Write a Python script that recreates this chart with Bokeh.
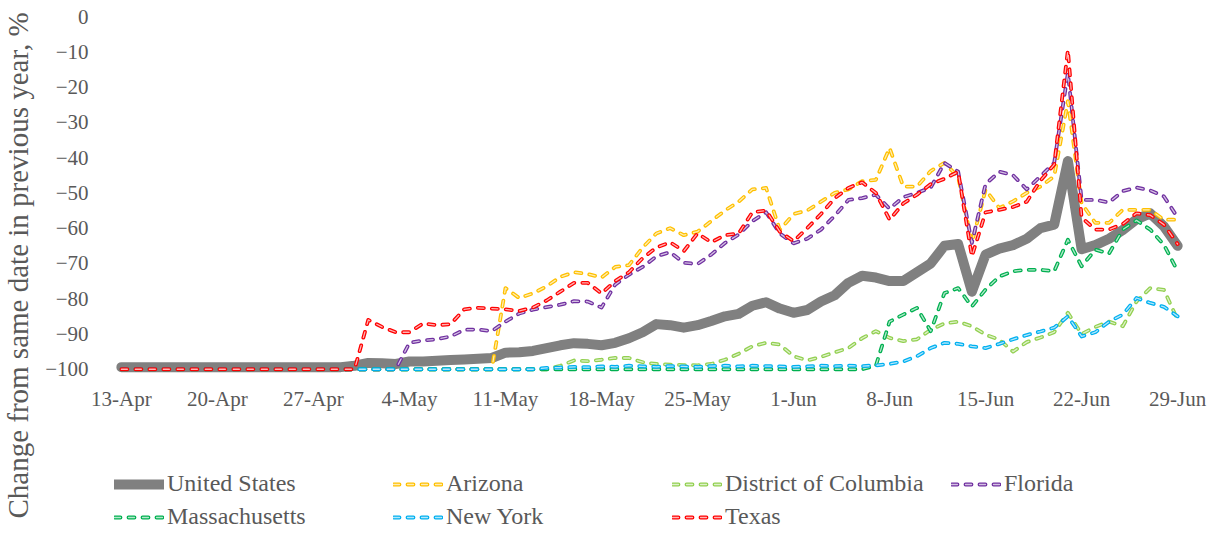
import math
import pandas as pd
from bokeh.plotting import figure
from bokeh.layouts import row, column
from bokeh.models import Range1d, FixedTicker, Legend, LegendItem, Label
from bokeh.embed import file_html
from bokeh.resources import INLINE

# ---------------- data ----------------
dates = pd.date_range("2020-04-13", "2020-06-29", freq="D")
tick_dates = pd.date_range("2020-04-13", "2020-06-29", freq="7D")
y_ticks = [-100, -90, -80, -70, -60, -50, -40, -30, -20, -10, 0]

united_states = [
    -99.4, -99.4, -99.4, -99.4, -99.4, -99.4, -99.4, -99.4, -99.4, -99.4,
    -99.4, -99.4, -99.4, -99.4, -99.4, -99.4, -99.4, -99.0, -98.2, -98.3,
    -98.5, -97.8, -97.8, -97.6, -97.4, -97.2, -97.0, -96.8, -95.3, -95.2,
    -94.8, -94.0, -93.2, -92.6, -92.8, -93.2, -92.5, -91.2, -89.5, -87.2,
    -87.5, -88.2, -87.5, -86.3, -85.0, -84.3, -82.0, -81.0, -82.8, -84.0,
    -83.2, -80.8, -79.0, -75.5, -73.5, -74.0, -75.0, -75.0, -72.5, -70.0,
    -65.0, -64.5, -78.0, -67.5, -65.8, -64.8, -63.0, -60.0, -59.0, -41.0,
    -66.0, -64.8, -63.0, -60.5, -57.5, -55.8, -59.5, -65.0]

arizona = [
    -100, -100, -100, -100, -100, -100, -100, -100, -100, -100,
    -100, -100, -100, -100, -100, -100, -100, -100, -100, -100,
    -100, -100, -100, -100, -100, -100, -100, -100, -77.0, -79.8,
    -78.5, -76.5, -73.8, -72.5, -73.0, -74.0, -71.0, -70.5, -65.5, -61.5,
    -60.0, -62.0, -61.0, -58.0, -55.0, -52.5, -49.0, -48.6, -60.5, -56.0,
    -55.0, -52.5, -50.0, -49.0, -46.7, -46.3, -37.3, -48.2, -48.2, -43.8,
    -41.5, -45.5, -64.2, -49.1, -54.3, -52.4, -50.0, -48.2, -45.3, -24.0,
    -53.0, -58.5, -58.5, -54.8, -54.8, -54.8, -57.6, -57.6]

district_of_columbia = [
    -100, -100, -100, -100, -100, -100, -100, -100, -100, -100,
    -100, -100, -100, -100, -100, -100, -100, -100, -100, -100,
    -100, -100, -100, -100, -100, -100, -100, -100, -100, -100,
    -100, -100, -99.0, -97.5, -97.7, -97.3, -96.8, -96.8, -98.0, -98.5,
    -98.7, -98.8, -98.9, -98.5, -97.3, -95.6, -93.5, -92.5, -93.0, -96.3,
    -97.5, -96.5, -95.2, -94.0, -91.2, -89.2, -91.1, -92.0, -91.5, -88.8,
    -87.0, -86.5, -87.8, -90.2, -91.6, -95.0, -92.3, -91.0, -89.5, -84.0,
    -90.0, -88.0, -86.5, -87.8, -80.8, -77.0, -77.5, -86.0]

florida = [
    -100, -100, -100, -100, -100, -100, -100, -100, -100, -100,
    -100, -100, -100, -100, -100, -100, -100, -100, -100, -100,
    -100, -92.5, -91.8, -91.5, -90.7, -88.8, -88.7, -89.2, -86.5, -84.2,
    -83.1, -82.4, -81.7, -80.7, -80.8, -82.5, -76.0, -73.2, -71.0, -68.0,
    -66.8, -69.8, -70.2, -67.5, -64.2, -61.8, -58.0, -55.5, -61.5, -64.3,
    -63.0, -60.4, -56.5, -52.0, -51.5, -50.5, -54.5, -51.2, -50.0, -48.5,
    -41.5, -44.0, -64.2, -47.5, -44.0, -45.0, -49.0, -45.3, -41.5, -16.0,
    -52.0, -52.0, -52.7, -49.5, -48.5, -49.3, -51.0, -57.0]

massachusetts = [
    -100, -100, -100, -100, -100, -100, -100, -100, -100, -100,
    -100, -100, -100, -100, -100, -100, -100, -100, -100, -100,
    -100, -100, -100, -100, -100, -100, -100, -100, -100, -100,
    -100, -100, -100, -100, -100, -100, -100, -100, -100, -100,
    -100, -100, -100, -100, -100, -100, -100, -100, -100, -100,
    -100, -100, -100, -100, -100, -99.0, -86.5, -84.5, -82.6, -89.2,
    -78.4, -77.0, -82.2, -77.4, -73.7, -72.2, -71.8, -71.8, -72.2, -63.3,
    -70.8, -66.1, -67.2, -60.4, -57.8, -60.4, -64.7, -72.2]

new_york = [
    -100, -100, -100, -100, -100, -100, -100, -100, -100, -100,
    -100, -100, -100, -100, -100, -100, -100, -100, -100, -100,
    -100, -100, -100, -100, -100, -100, -100, -100, -100, -100,
    -100, -99.6, -99.5, -99.3, -99.4, -99.2, -99.3, -99.0, -99.2, -99.3,
    -99.1, -99.2, -99.3, -99.1, -99.0, -99.2, -99.0, -99.1, -99.2, -99.3,
    -99.2, -99.0, -99.1, -99.0, -99.1, -98.9, -98.5, -97.8, -96.3, -94.0,
    -92.5, -92.8, -93.5, -94.0, -92.8, -91.5, -90.3, -89.3, -88.2, -85.0,
    -90.7, -89.5, -86.5, -84.5, -79.8, -81.2, -82.3, -85.0]

texas = [
    -100, -100, -100, -100, -100, -100, -100, -100, -100, -100,
    -100, -100, -100, -100, -100, -100, -100, -100, -86.0, -88.0,
    -89.5, -89.5, -87.0, -87.5, -87.2, -83.0, -82.6, -82.8, -83.0, -83.5,
    -82.5, -80.5, -78.0, -75.5, -75.5, -78.5, -75.0, -72.5, -68.5, -65.5,
    -64.0, -66.5, -61.5, -64.0, -62.0, -61.5, -55.5, -55.0, -61.0, -63.7,
    -60.0, -56.0, -51.5, -48.6, -47.0, -50.0, -57.6, -53.0, -50.5, -47.5,
    -46.0, -44.0, -68.0, -55.5, -54.8, -54.0, -52.5, -46.5, -42.0, -9.5,
    -57.0, -60.4, -60.4, -58.8, -55.8, -56.3, -59.0, -64.5]

series_names = ["United States", "Arizona", "District of Columbia", "Florida",
                "Massachusetts", "New York", "Texas"]
series_values = [united_states, arizona, district_of_columbia, florida,
                 massachusetts, new_york, texas]
series_colors = ["#808080", "#FFC000", "#92D050", "#7030A0",
                 "#00B050", "#00B0F0", "#FF0000"]
y_title = "Change from same date in previous year, %"

# ---------------- styling ----------------
FONT = "Liberation Serif"
TXT = "#595959"
x_days = [int((d - dates[0]).days) for d in dates]
tick_days = [int((d - dates[0]).days) for d in tick_dates]
tick_labels = [f"{d.day}-{d.strftime('%b')}" for d in tick_dates]


def draw_series(fig, xs, ys, name, col):
    if name == "United States":
        return [fig.line(xs, ys, line_color=col, line_width=10,
                         line_join="round", line_cap="round")]
    r1 = fig.line(xs, ys, line_color=col, line_width=3.8, line_dash="6 8",
                  line_cap="round", line_join="round")
    r2 = fig.line(xs, ys, line_color="white", line_width=1.3, line_dash="6 8",
                  line_cap="round", line_join="round", line_alpha=0.7)
    return [r1, r2]


def bare(fig):
    fig.outline_line_color = None
    fig.xgrid.visible = False
    fig.ygrid.visible = False


# ---------------- chart ----------------
p = figure(width=1168, height=413, output_backend="svg", toolbar_location=None,
           x_range=Range1d(-0.5, 77.5), y_range=Range1d(-101.2, 0),
           min_border_left=59, min_border_right=26, min_border_top=16,
           min_border_bottom=40)
bare(p)
for ax in (p.xaxis[0], p.yaxis[0]):
    ax.axis_line_color = None
    ax.major_tick_line_color = None
    ax.minor_tick_line_color = None
    ax.major_label_text_font = FONT
    ax.major_label_text_font_size = "21px"
    ax.major_label_text_color = TXT
p.xaxis.ticker = FixedTicker(ticks=tick_days)
p.xaxis.major_label_overrides = {t: l for t, l in zip(tick_days, tick_labels)}
p.xaxis.major_label_standoff = 7
p.yaxis.ticker = FixedTicker(ticks=y_ticks)
p.yaxis.major_label_standoff = 20

for name, vals, col in zip(series_names, series_values, series_colors):
    draw_series(p, x_days, vals, name, col)

# ---------------- y-axis title ----------------
tf = figure(width=42, height=530, output_backend="svg", toolbar_location=None,
            x_range=Range1d(0, 42), y_range=Range1d(0, 530), min_border=0,
            x_axis_location=None, y_axis_location=None)
bare(tf)
tf.add_layout(Label(x=17, y=265, text=y_title,
                    angle=math.pi / 2, text_align="center", text_baseline="middle",
                    text_font=FONT, text_font_size="29px", text_color=TXT))

# ---------------- legend ----------------
# the legend panel re-draws the same series far outside its visible range,
# so only the legend samples show
lf = figure(width=1168, height=117, output_backend="svg", toolbar_location=None,
            x_range=Range1d(1000, 1001), y_range=Range1d(1000, 1001), min_border=0,
            x_axis_location=None, y_axis_location=None)
bare(lf)
items = []
for name, vals, col in zip(series_names, series_values, series_colors):
    rs = draw_series(lf, x_days, vals, name, col)
    items.append(LegendItem(label=name, renderers=rs))
leg = Legend(items=items, location=(0, 0), orientation="horizontal", ncols=4,
             glyph_width=50, glyph_height=20, label_height=20, label_width=220,
             label_standoff=3, padding=0, margin=0, spacing=6,
             border_line_color=None, background_fill_alpha=0,
             label_text_font=FONT, label_text_font_size="24px",
             label_text_color=TXT)
lf.add_layout(leg)

layout = row(tf, column(p, lf))
open("out.html", "w").write(file_html(layout, INLINE))
